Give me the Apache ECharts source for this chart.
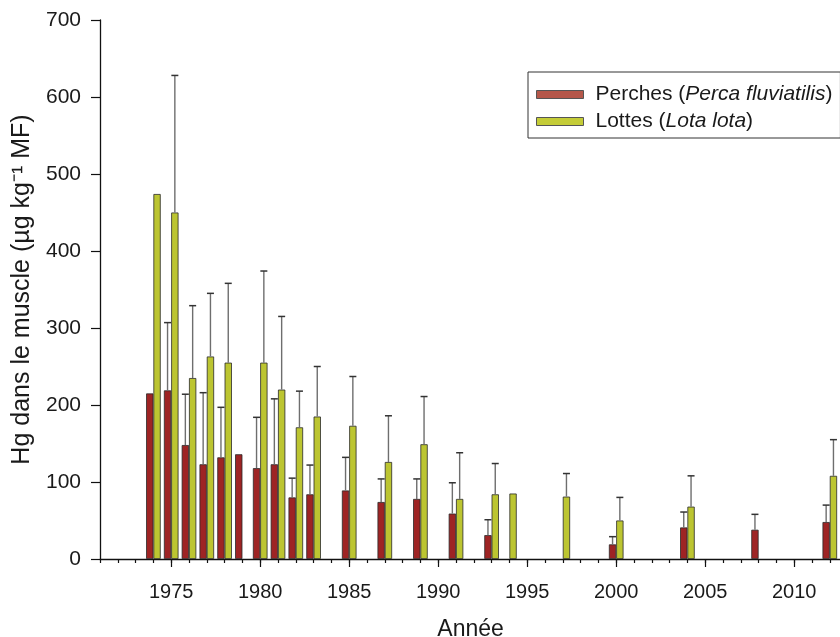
<!DOCTYPE html>
<html>
<head>
<meta charset="utf-8">
<script src="https://cdn.jsdelivr.net/npm/echarts@6/dist/echarts.min.js"></script>
<style>
  html, body { margin: 0; padding: 0; background: #fff; }
  #chart { width: 840px; height: 637px; }
</style>
</head>
<body>
<div id="chart"></div>
<script>
// ---- data ----
const axisYears = [];
for (let y = 1971; y <= 2015; y++) axisYears.push(String(y));

const years        = [1974, 1975, 1976, 1977, 1978, 1979, 1980, 1981, 1982, 1983, 1985, 1987, 1989, 1991, 1993, 1994, 1997, 2000, 2004, 2008, 2012];
const perches      = [215,  219,  148,  123,  132,  136,  118,  123,  80,   84,   89,   74,   78,   59,   31,   null, null, 19,   41,   38,   48];
const perchesUpper = [null, 307,  214,  216,  197,  null, 184,  208,  105,  122,  132,  104,  104,  99,   51,   null, null, 29,   61,   58,   70];
const lottes       = [474,  450,  235,  263,  255,  null, 255,  220,  171,  185,  173,  126,  149,  78,   84,   85,   81,   50,   68,   null, 108];
const lottesUpper  = [null, 628,  329,  345,  358,  null, 374,  315,  218,  250,  237,  186,  211,  138,  124,  null, 111,  80,   108,  null, 155];

const yTicks = [0, 100, 200, 300, 400, 500, 600, 700];

const seriesNames = ['Perches', 'Lottes'];
const legendLabels = {
  'Perches': '{n|Perches (}{i|Perca fluviatilis}{n|)}',
  'Lottes': '{n|Lottes (}{i|Lota lota}{n|)}'
};

// ---- style ----
const FONT = 'Liberation Sans, Arial, sans-serif';
const RED = '#9e2424';
const GREEN = '#bcc531';
const BAR_W = 7.3;

function barData(vals) {
  const out = [];
  years.forEach((y, i) => { if (vals[i] != null) out.push([String(y), vals[i]]); });
  return out;
}
function errData(vals, upper) {
  const out = [];
  years.forEach((y, i) => { if (vals[i] != null && upper[i] != null) out.push([String(y), vals[i], upper[i]]); });
  return out;
}
function errRender(offset) {
  return function (params, api) {
    const x = api.value(0);
    const p0 = api.coord([x, api.value(1)]);
    const p1 = api.coord([x, api.value(2)]);
    const cx = p0[0] + offset;
    return {
      type: 'group',
      children: [
        { type: 'line', shape: { x1: cx, y1: p0[1], x2: cx, y2: p1[1] },
          style: { stroke: '#6e6e6e', lineWidth: 1.4 } },
        { type: 'line', shape: { x1: cx - 3.5, y1: p1[1], x2: cx + 3.5, y2: p1[1] },
          style: { stroke: '#333', lineWidth: 1.5 } }
      ]
    };
  };
}

const chart = echarts.init(document.getElementById('chart'), null, { renderer: 'canvas' });

const option = {
  animation: false,
  backgroundColor: '#ffffff',
  textStyle: { fontFamily: FONT, color: '#1a1a1a' },
  grid: { left: 100, top: 20, width: 783.2, height: 539, containLabel: false, outerBoundsMode: 'none' },
  legend: {
    orient: 'vertical',
    left: 528,
    top: 72,
    padding: [12, 8, 6, 8],
    itemGap: 6,
    itemWidth: 47,
    itemHeight: 8,
    icon: 'rect',
    borderColor: '#333',
    borderWidth: 1,
    data: [
      { name: 'Perches', itemStyle: { color: '#b5574a', borderColor: '#555', borderWidth: 1 } },
      { name: 'Lottes', itemStyle: { color: '#c4cc37', borderColor: '#555', borderWidth: 1 } }
    ],
    formatter: function (name) { return legendLabels[name]; },
    textStyle: {
      fontFamily: FONT,
      padding: [0, 0, 0, 7],
      rich: {
        n: { fontSize: 21, fontFamily: FONT, color: '#1a1a1a', lineHeight: 23 },
        i: { fontSize: 21, fontFamily: FONT, fontStyle: 'italic', color: '#1a1a1a', lineHeight: 23 }
      }
    }
  },
  xAxis: [
    {
      type: 'category',
      data: axisYears,
      boundaryGap: false,
      position: 'bottom',
      name: 'Année',
      nameLocation: 'middle',
      nameGap: 59,
      nameTextStyle: { fontSize: 23, fontFamily: FONT, color: '#1a1a1a', padding: [0, 42, 0, 0] },
      axisLine: { show: true, lineStyle: { color: '#111', width: 1.3 } },
      axisTick: { show: true, interval: 0, length: 4, lineStyle: { color: '#111', width: 1.2 } },
      axisLabel: {
        interval: function (index, value) { return Number(value) % 5 === 0; },
        fontSize: 20, fontFamily: FONT, color: '#1a1a1a', margin: 23
      },
      splitLine: { show: false }
    },
    {
      type: 'category',
      data: axisYears,
      boundaryGap: false,
      position: 'bottom',
      axisLine: { show: false },
      axisTick: {
        show: true,
        interval: function (index, value) { return Number(value) % 5 === 0; },
        length: 8, lineStyle: { color: '#111', width: 1.2 }
      },
      axisLabel: { show: false },
      splitLine: { show: false }
    }
  ],
  yAxis: {
    type: 'value',
    min: yTicks[0],
    max: yTicks[yTicks.length - 1],
    interval: 100,
    name: 'Hg dans le muscle (µg kg\u207B\u00B9 MF)',
    nameLocation: 'middle',
    nameGap: 65,
    nameTextStyle: { fontSize: 25, fontFamily: FONT, color: '#1a1a1a' },
    axisLine: { show: true, lineStyle: { color: '#111', width: 1.3 } },
    axisTick: { show: true, length: 9, lineStyle: { color: '#111', width: 1.2 } },
    axisLabel: { fontSize: 21, fontFamily: FONT, color: '#1a1a1a', margin: 19 },
    splitLine: { show: false }
  },
  series: [
    {
      name: seriesNames[0], type: 'bar', xAxisIndex: 0,
      data: barData(perches),
      barWidth: BAR_W, barGap: '0%',
      itemStyle: { color: RED, borderColor: '#2a2a2a', borderWidth: 0.8 },
      z: 2
    },
    {
      name: seriesNames[1], type: 'bar', xAxisIndex: 0,
      data: barData(lottes),
      barWidth: BAR_W, barGap: '0%',
      itemStyle: { color: GREEN, borderColor: '#2a2a2a', borderWidth: 0.8 },
      z: 2
    },
    {
      name: 'errPerches', type: 'custom', xAxisIndex: 0,
      data: errData(perches, perchesUpper),
      renderItem: errRender(-BAR_W / 2),
      z: 3, silent: true
    },
    {
      name: 'errLottes', type: 'custom', xAxisIndex: 0,
      data: errData(lottes, lottesUpper),
      renderItem: errRender(BAR_W / 2),
      z: 3, silent: true
    }
  ]
};

chart.setOption(option);
</script>
</body>
</html>
